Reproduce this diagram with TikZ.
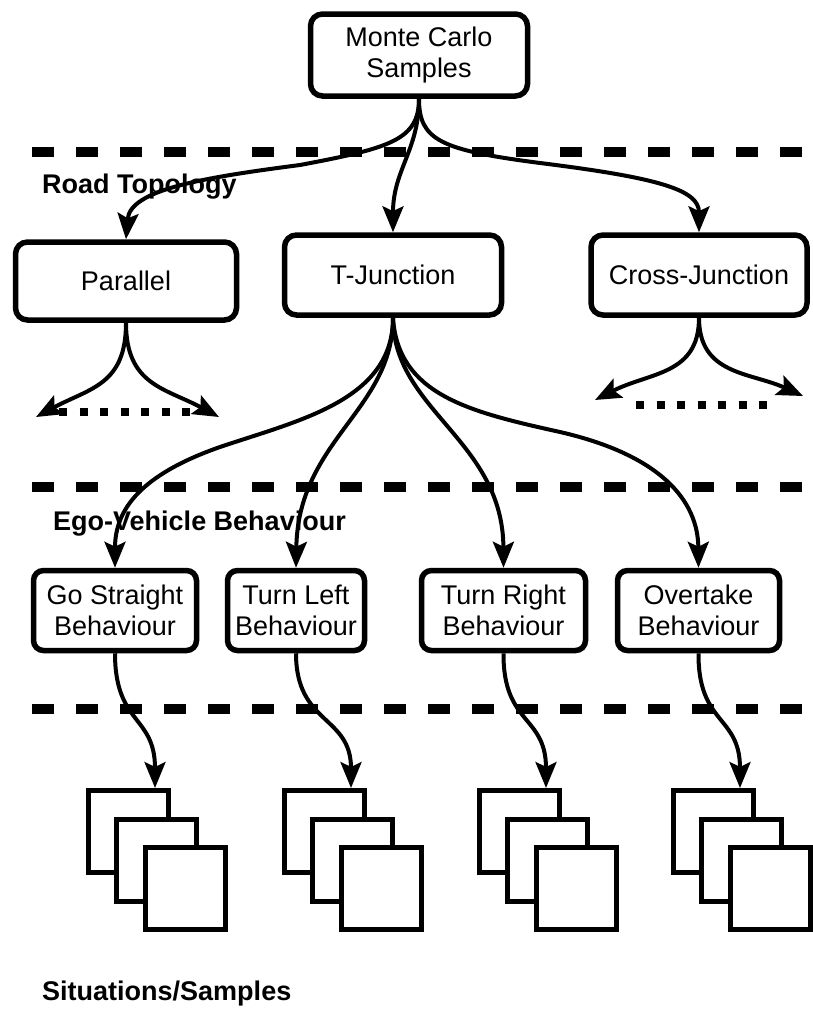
\documentclass[tikz,border=0pt]{standalone}
\usepackage{fontspec}
\setmainfont{Liberation Sans}
\usetikzlibrary{arrows.meta}

\begin{document}
\begin{tikzpicture}[
	x=1pt, y=-1pt,
	>={Stealth[length=26pt, width=21pt, inset=5pt]},
	font=\fontsize{27}{31}\selectfont,
	stage/.style={
		draw=black, line width=5.5pt, fill=white, rounded corners=12pt,
		align=center, inner sep=0pt
	},
	layer/.style={draw=black, line width=10pt, dash pattern=on 22pt off 22pt},
	more/.style={draw=black, line width=8pt, dash pattern=on 8pt off 12.5pt},
	header/.style={font=\fontsize{27}{31}\selectfont\bfseries, anchor=base west, inner sep=0pt},
	sample/.style={draw=black, line width=5pt, fill=white, minimum width=80pt, minimum height=82pt, inner sep=0pt},
	branch/.style={->, line width=4pt}
	]
	
	\useasboundingbox (0,0) rectangle (812,1009);
	
	% ==========================================
	% LAYERS: dashed separators and their titles
	% ==========================================
	
	\draw[layer] (32,152) -- (812,152);
	\draw[layer] (32,487) -- (812,487);
	\draw[layer] (32,709) -- (812,709);
	
	\node[header] (road) at (42,193) {Road Topology};
	\node[header] (ego) at (53,530) {Ego-Vehicle Behaviour};
	\node[header] (sit) at (42,1000) {Situations/Samples};
	
	% ==========================================
	% ROOT AND ROAD TOPOLOGY
	% ==========================================
	
	\node[stage, minimum width=217pt, minimum height=82pt] (mc) at (419,55) {Monte Carlo\\Samples};
	
	\node[stage, minimum width=221pt, minimum height=78pt] (par) at (126,281) {Parallel};
	\node[stage, minimum width=217pt, minimum height=80pt] (tj) at (393,275) {T-Junction};
	\node[stage, minimum width=216pt, minimum height=80pt] (cj) at (699,275) {Cross-Junction};
	
	% Sampling of the road layout
	\draw[branch] (mc.south) .. controls (419,140) and (390,148) .. (300,165)
	.. controls (200,178) and (130,190) .. (par.north);
	\draw[branch] (mc.south) .. controls (419,150) and (393,170) .. (tj.north);
	\draw[branch] (mc.south) .. controls (419,140) and (440,150) .. (540,163)
	.. controls (660,178) and (699,190) .. (cj.north);
	
	% Branches that are not expanded
	\coordinate (parL) at (36,417);
	\coordinate (parR) at (219,417);
	\coordinate (cjL) at (595,400);
	\coordinate (cjR) at (803,396);
	\draw[branch] (par.south) .. controls (126,385) and (90,388) .. (parL);
	\draw[branch] (par.south) .. controls (126,385) and (165,388) .. (parR);
	\draw[branch] (cj.south) .. controls (699,375) and (650,372) .. (cjL);
	\draw[branch] (cj.south) .. controls (699,375) and (750,372) .. (cjR);
	\draw[more] (59,412) -- (192,412);
	\draw[more] (636,405) -- (769,405);
	
	% ==========================================
	% EGO-VEHICLE BEHAVIOUR
	% ==========================================
	
	\node[stage, rounded corners=10pt, minimum width=163pt, minimum height=80pt] (gs) at (115,610.5) {Go Straight\\Behaviour};
	\node[stage, rounded corners=10pt, minimum width=137pt, minimum height=80pt] (tl) at (296,610.5) {Turn Left\\Behaviour};
	\node[stage, rounded corners=10pt, minimum width=164pt, minimum height=80pt] (tr) at (503.5,610.5) {Turn Right\\Behaviour};
	\node[stage, rounded corners=10pt, minimum width=162pt, minimum height=80pt] (ot) at (698.5,610.5) {Overtake\\Behaviour};
	
	\draw[branch] (tj.south) .. controls (393,400) and (300,420) .. (220,447)
	.. controls (140,475) and (115,510) .. (gs.north);
	\draw[branch] (tj.south) .. controls (393,410) and (298,440) .. (tl.north);
	\draw[branch] (tj.south) .. controls (393,410) and (503,440) .. (tr.north);
	\draw[branch] (tj.south) .. controls (398,395) and (470,412) .. (560,432)
	.. controls (660,455) and (698,500) .. (ot.north);
	
	% ==========================================
	% SITUATIONS: stacks of sampled scenes
	% ==========================================
	
	\node[sample] (s1a) at (128,831.5) {};
	\node[sample] (s1b) at (156.5,860) {};
	\node[sample] (s1c) at (185,888.5) {};
	
	\node[sample] (s2a) at (324,831.5) {};
	\node[sample] (s2b) at (352.5,860) {};
	\node[sample] (s2c) at (381,888.5) {};
	
	\node[sample] (s3a) at (519,831.5) {};
	\node[sample] (s3b) at (547.5,860) {};
	\node[sample] (s3c) at (576,888.5) {};
	
	\node[sample] (s4a) at (713,831.5) {};
	\node[sample] (s4b) at (741.5,860) {};
	\node[sample] (s4c) at (770,888.5) {};
	
	\draw[branch] (gs.south) .. controls (115,725) and (155,715) .. ([xshift=27pt]s1a.north);
	\draw[branch] (tl.south) .. controls (296,725) and (351,715) .. ([xshift=27pt]s2a.north);
	\draw[branch] (tr.south) .. controls (503,725) and (546,715) .. ([xshift=27pt]s3a.north);
	\draw[branch] (ot.south) .. controls (698,725) and (740,715) .. ([xshift=27pt]s4a.north);
\end{tikzpicture}
\end{document}
